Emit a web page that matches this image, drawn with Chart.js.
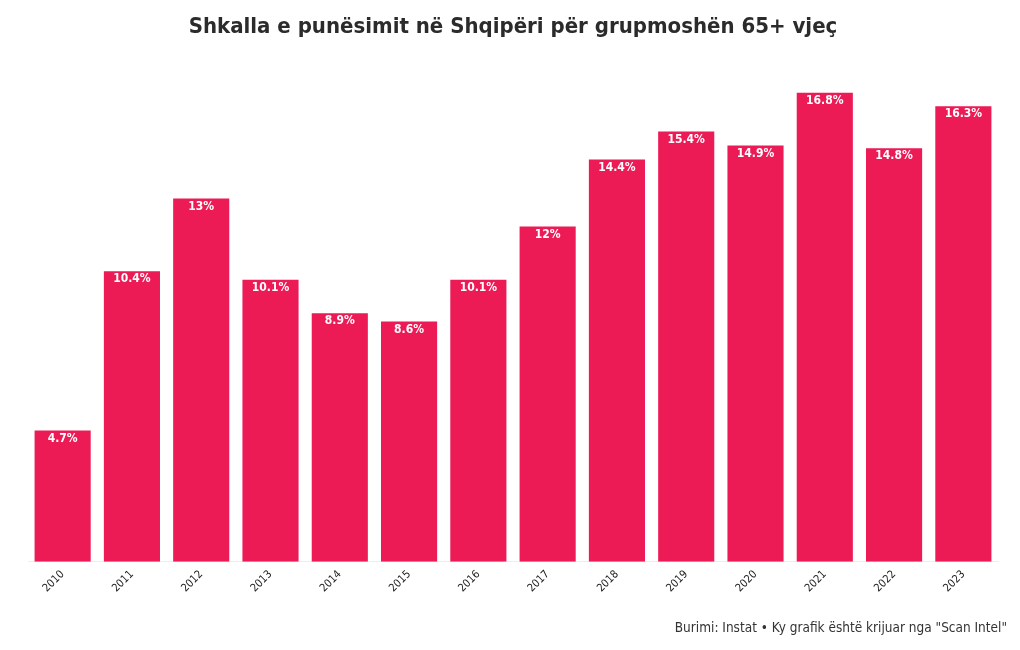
<!DOCTYPE html>
<html>
<head>
<meta charset="utf-8">
<script src="https://cdn.jsdelivr.net/npm/chart.js@4"></script>
<style>
html,body{margin:0;padding:0;background:#fff;}
#wrap{width:1020px;height:650px;position:relative;}
</style>
</head>
<body>
<div id="wrap"><canvas id="c" width="1020" height="650"></canvas></div>
<script>
const years = ["2010","2011","2012","2013","2014","2015","2016","2017","2018","2019","2020","2021","2022","2023"];
const rates = [4.7,10.4,13,10.1,8.9,8.6,10.1,12,14.4,15.4,14.9,16.8,14.8,16.3];
const titleText = "Shkalla e punësimit në Shqipëri për grupmoshën 65+ vjeç";
const sourceText = "Burimi: Instat • Ky grafik është krijuar nga \"Scan Intel\"";

const FONT = "'Liberation Sans Narrow', 'DejaVu Sans Condensed', sans-serif";

const labelPlugin = {
  id: 'barLabels',
  afterDatasetsDraw(chart) {
    const ctx = chart.ctx;
    const meta = chart.getDatasetMeta(0);
    ctx.save();
    ctx.fillStyle = '#ffffff';
    ctx.font = "bold 12px " + FONT;
    ctx.textAlign = 'center';
    ctx.textBaseline = 'middle';
    meta.data.forEach((bar, i) => {
      ctx.fillText(rates[i] + '%', bar.x, bar.y + 8);
    });
    ctx.restore();
  }
};

const footerPlugin = {
  id: 'footerText',
  afterDraw(chart) {
    const ctx = chart.ctx;
    ctx.save();
    ctx.fillStyle = '#333333';
    ctx.font = "13.5px " + FONT;
    ctx.textAlign = 'right';
    ctx.textBaseline = 'middle';
    ctx.fillText(sourceText, 1007, 628);
    ctx.restore();
  }
};

new Chart(document.getElementById('c'), {
  type: 'bar',
  data: {
    labels: years,
    datasets: [{
      data: rates,
      backgroundColor: '#EC1A55',
      borderWidth: 0,
      barPercentage: 0.9,
      categoryPercentage: 0.9
    }]
  },
  options: {
    responsive: false,
    animation: false,
    devicePixelRatio: 1,
    layout: { padding: { left: 28, right: 22, top: 0, bottom: 49 } },
    scales: {
      x: {
        grid: { display: false, drawTicks: false },
        border: { display: true, color: '#eeeeee' },
        ticks: {
          color: '#222',
          font: { family: FONT, size: 11 },
          maxRotation: 45, minRotation: 45,
          padding: 6
        }
      },
      y: {
        display: false,
        min: 0,
        max: Math.max(...rates)
      }
    },
    plugins: {
      legend: { display: false },
      tooltip: { enabled: false },
      title: {
        display: true,
        text: titleText,
        color: '#2b2b2b',
        font: { family: FONT, size: 22, weight: 'bold' },
        padding: { top: 14, bottom: 52 }
      }
    }
  },
  plugins: [labelPlugin, footerPlugin]
});
</script>
</body>
</html>
